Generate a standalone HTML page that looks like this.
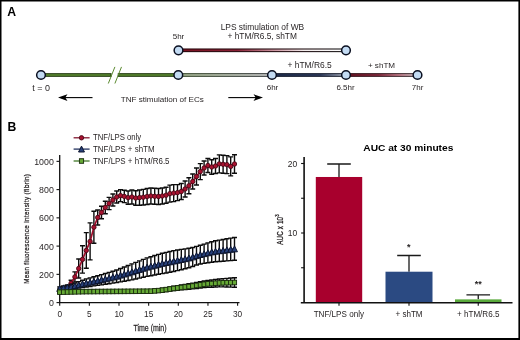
<!DOCTYPE html>
<html lang="en"><head><meta charset="utf-8"><title>Figure</title>
<style>
html,body{margin:0;padding:0;background:#fff;}
body{width:520px;height:340px;overflow:hidden;position:relative;font-family:"Liberation Sans", sans-serif;}
svg{position:absolute;left:0;top:0;display:block;}
svg text{font-family:"Liberation Sans", sans-serif;}
</style></head><body>
<svg width="520" height="340" viewBox="0 0 520 340">
<defs>
<linearGradient id="gRed" x1="0" y1="0" x2="1" y2="0"><stop offset="0" stop-color="#78101f"/><stop offset="0.35" stop-color="#8a2236"/><stop offset="0.58" stop-color="#cf9aa5"/><stop offset="0.75" stop-color="#f3ecec"/><stop offset="1" stop-color="#ffffff"/></linearGradient>
<linearGradient id="sRed" x1="0" y1="0" x2="1" y2="0"><stop offset="0" stop-color="#2a060c"/><stop offset="0.6" stop-color="#2a1216"/><stop offset="1" stop-color="#1e1c1e"/></linearGradient>
<linearGradient id="gGreenGrey" x1="0" y1="0" x2="1" y2="0"><stop offset="0" stop-color="#a9b998"/><stop offset="0.4" stop-color="#bfc9b4"/><stop offset="1" stop-color="#dcdcdc"/></linearGradient>
<linearGradient id="sGreenGrey" x1="0" y1="0" x2="1" y2="0"><stop offset="0" stop-color="#36472a"/><stop offset="1" stop-color="#33363a"/></linearGradient>
<linearGradient id="gNavy" x1="0" y1="0" x2="1" y2="0"><stop offset="0" stop-color="#1f2e50"/><stop offset="0.65" stop-color="#2f3d60"/><stop offset="0.88" stop-color="#8e97ab"/><stop offset="1" stop-color="#d4d7dd"/></linearGradient>
<linearGradient id="sNavy" x1="0" y1="0" x2="1" y2="0"><stop offset="0" stop-color="#0e1528"/><stop offset="1" stop-color="#1c2130"/></linearGradient>
<linearGradient id="gRed2" x1="0" y1="0" x2="1" y2="0"><stop offset="0" stop-color="#6e1022"/><stop offset="0.45" stop-color="#8e2a40"/><stop offset="0.75" stop-color="#d98a9a"/><stop offset="0.9" stop-color="#dcbcc3"/><stop offset="1" stop-color="#dad4d6"/></linearGradient>
<linearGradient id="sRed2" x1="0" y1="0" x2="1" y2="0"><stop offset="0" stop-color="#2e0a12"/><stop offset="1" stop-color="#3a2a2e"/></linearGradient>
</defs>
<text x="7.3" y="16.2" font-size="12.2" font-weight="bold" fill="#000">A</text>
<text x="7.5" y="130.6" font-size="12.2" font-weight="bold" fill="#000">B</text>
<rect x="41" y="73.7" width="70.0" height="2.6" fill="#5d8c30" stroke="#263c14" stroke-width="1.1"/>
<rect x="118.3" y="73.7" width="60.2" height="2.6" fill="#5d8c30" stroke="#263c14" stroke-width="1.1"/>
<path d="M108.3 83.5 L114.9 66.9 M114.9 83.5 L121.5 66.9" stroke="#5b8a30" stroke-width="1" fill="none"/>
<rect x="178.5" y="73.7" width="93.5" height="2.6" fill="url(#gGreenGrey)" stroke="url(#sGreenGrey)" stroke-width="1.1"/>
<rect x="272" y="73.7" width="74" height="2.6" fill="url(#gNavy)" stroke="url(#sNavy)" stroke-width="1.1"/>
<rect x="346" y="73.7" width="71.5" height="2.6" fill="url(#gRed2)" stroke="url(#sRed2)" stroke-width="1.1"/>
<rect x="178.5" y="49.0" width="167.5" height="2.6" fill="url(#gRed)" stroke="url(#sRed)" stroke-width="1.1"/>
<circle cx="41" cy="75.0" r="4.35" fill="#c3dbf3" stroke="#0a0f20" stroke-width="1.5"/>
<circle cx="178.3" cy="75.0" r="4.35" fill="#c3dbf3" stroke="#0a0f20" stroke-width="1.5"/>
<circle cx="272" cy="75.0" r="4.35" fill="#c3dbf3" stroke="#0a0f20" stroke-width="1.5"/>
<circle cx="346" cy="75.0" r="4.35" fill="#c3dbf3" stroke="#0a0f20" stroke-width="1.5"/>
<circle cx="417.5" cy="75.0" r="4.35" fill="#c3dbf3" stroke="#0a0f20" stroke-width="1.5"/>
<circle cx="178.5" cy="50.3" r="4.35" fill="#c3dbf3" stroke="#0a0f20" stroke-width="1.5"/>
<circle cx="346" cy="50.3" r="4.35" fill="#c3dbf3" stroke="#0a0f20" stroke-width="1.5"/>
<text transform="translate(262.4,30.2) scale(1.025,1)" font-size="8.2" text-anchor="middle" font-weight="normal" fill="#231f20" >LPS stimulation of WB</text>
<text transform="translate(262.2,39.3) scale(1.02,1)" font-size="8.2" text-anchor="middle" font-weight="normal" fill="#231f20" >+ hTM/R6.5, shTM</text>
<text x="178.5" y="39.2" font-size="8" text-anchor="middle" font-weight="normal" fill="#231f20" >5hr</text>
<text transform="translate(41.2,90.5) scale(1.08,1)" font-size="8.3" text-anchor="middle" font-weight="normal" fill="#231f20" >t = 0</text>
<text x="272.5" y="90.1" font-size="8" text-anchor="middle" font-weight="normal" fill="#231f20" >6hr</text>
<text x="345.5" y="90.1" font-size="8" text-anchor="middle" font-weight="normal" fill="#231f20" >6.5hr</text>
<text x="417.6" y="90.1" font-size="8" text-anchor="middle" font-weight="normal" fill="#231f20" >7hr</text>
<text transform="translate(309.6,68.0) scale(1.03,1)" font-size="8.2" text-anchor="middle" font-weight="normal" fill="#231f20" >+ hTM/R6.5</text>
<text x="381.5" y="68.0" font-size="8.1" text-anchor="middle" font-weight="normal" fill="#231f20" >+ shTM</text>
<text x="162.3" y="102" font-size="8.1" text-anchor="middle" font-weight="normal" fill="#231f20" >TNF stimulation of ECs</text>
<path d="M61 97.6 H92.5" stroke="#000" stroke-width="1.1"/><path d="M58 97.6 L67.5 94.2 L65.3 97.6 L67.5 101 Z" fill="#000"/>
<path d="M228.3 97.6 H260" stroke="#000" stroke-width="1.1"/><path d="M263 97.6 L253.5 94.2 L255.7 97.6 L253.5 101 Z" fill="#000"/>
<path d="M59.7 155 V302.6 M59.1 302.6 H239.5" stroke="#111" stroke-width="1.3" fill="none"/>
<path d="M56.5 302.60 H59.7" stroke="#111" stroke-width="1.1"/>
<text transform="translate(53.8,306.0) scale(1,1.1)" font-size="8.8" text-anchor="end" font-weight="normal" fill="#231f20" >0</text>
<path d="M56.5 274.35 H59.7" stroke="#111" stroke-width="1.1"/>
<text transform="translate(53.8,277.75) scale(1,1.1)" font-size="8.8" text-anchor="end" font-weight="normal" fill="#231f20" >200</text>
<path d="M56.5 246.10 H59.7" stroke="#111" stroke-width="1.1"/>
<text transform="translate(53.8,249.5) scale(1,1.1)" font-size="8.8" text-anchor="end" font-weight="normal" fill="#231f20" >400</text>
<path d="M56.5 217.85 H59.7" stroke="#111" stroke-width="1.1"/>
<text transform="translate(53.8,221.25) scale(1,1.1)" font-size="8.8" text-anchor="end" font-weight="normal" fill="#231f20" >600</text>
<path d="M56.5 189.60 H59.7" stroke="#111" stroke-width="1.1"/>
<text transform="translate(53.8,193.0) scale(1,1.1)" font-size="8.8" text-anchor="end" font-weight="normal" fill="#231f20" >800</text>
<path d="M56.5 161.35 H59.7" stroke="#111" stroke-width="1.1"/>
<text transform="translate(53.8,164.75) scale(1,1.1)" font-size="8.8" text-anchor="end" font-weight="normal" fill="#231f20" >1000</text>
<path d="M59.70 302.6 V305.8" stroke="#111" stroke-width="1.1"/>
<text transform="translate(59.7,316.7) scale(1,1.14)" font-size="8.3" text-anchor="middle" font-weight="normal" fill="#231f20" >0</text>
<path d="M89.35 302.6 V305.8" stroke="#111" stroke-width="1.1"/>
<text transform="translate(89.35,316.7) scale(1,1.14)" font-size="8.3" text-anchor="middle" font-weight="normal" fill="#231f20" >5</text>
<path d="M119.00 302.6 V305.8" stroke="#111" stroke-width="1.1"/>
<text transform="translate(119.0,316.7) scale(1,1.14)" font-size="8.3" text-anchor="middle" font-weight="normal" fill="#231f20" >10</text>
<path d="M148.65 302.6 V305.8" stroke="#111" stroke-width="1.1"/>
<text transform="translate(148.65,316.7) scale(1,1.14)" font-size="8.3" text-anchor="middle" font-weight="normal" fill="#231f20" >15</text>
<path d="M178.30 302.6 V305.8" stroke="#111" stroke-width="1.1"/>
<text transform="translate(178.3,316.7) scale(1,1.14)" font-size="8.3" text-anchor="middle" font-weight="normal" fill="#231f20" >20</text>
<path d="M207.95 302.6 V305.8" stroke="#111" stroke-width="1.1"/>
<text transform="translate(207.95,316.7) scale(1,1.14)" font-size="8.3" text-anchor="middle" font-weight="normal" fill="#231f20" >25</text>
<path d="M237.60 302.6 V305.8" stroke="#111" stroke-width="1.1"/>
<text transform="translate(237.6,316.7) scale(1,1.14)" font-size="8.3" text-anchor="middle" font-weight="normal" fill="#231f20" >30</text>
<text transform="translate(150,330.8) scale(0.73,1)" font-size="9.6" text-anchor="middle" fill="#231f20" stroke="#231f20" stroke-width="0.25">Time (min)</text>
<text transform="translate(28.7,228.8) rotate(-90) scale(0.78,1)" font-size="8.0" letter-spacing="0.48" text-anchor="middle" fill="#231f20" stroke="#231f20" stroke-width="0.25">Mean fluorescence intensity (fibrin)</text>
<path d="M59.70 289.00V292.00M57.20 289.00h5M57.20 292.00h5M63.50 287.80V291.40M61.00 287.80h5M61.00 291.40h5M67.30 285.10V289.50M64.80 285.10h5M64.80 289.50h5M71.10 280.20V286.20M68.60 280.20h5M68.60 286.20h5M74.90 271.90V281.90M72.40 271.90h5M72.40 281.90h5M78.70 259.00V278.00M76.20 259.00h5M76.20 278.00h5M82.50 245.70V273.10M80.00 245.70h5M80.00 273.10h5M86.30 232.60V268.20M83.80 232.60h5M83.80 268.20h5M90.10 222.90V259.90M87.60 222.90h5M87.60 259.90h5M93.90 211.20V243.20M91.40 211.20h5M91.40 243.20h5M97.70 210.00V225.00M95.20 210.00h5M95.20 225.00h5M101.50 206.20V218.80M99.00 206.20h5M99.00 218.80h5M105.30 201.30V213.70M102.80 201.30h5M102.80 213.70h5M109.10 197.40V209.60M106.60 197.40h5M106.60 209.60h5M112.90 194.00V206.00M110.40 194.00h5M110.40 206.00h5M116.70 191.00V203.00M114.20 191.00h5M114.20 203.00h5M120.50 189.60V201.60M118.00 189.60h5M118.00 201.60h5M124.30 190.20V202.60M121.80 190.20h5M121.80 202.60h5M128.10 191.00V204.20M125.60 191.00h5M125.60 204.20h5M131.90 190.00V204.00M129.40 190.00h5M129.40 204.00h5M135.70 190.70V205.30M133.20 190.70h5M133.20 205.30h5M139.50 190.00V205.20M137.00 190.00h5M137.00 205.20h5M143.30 189.40V205.00M140.80 189.40h5M140.80 205.00h5M147.10 188.50V204.50M144.60 188.50h5M144.60 204.50h5M150.90 188.00V204.00M148.40 188.00h5M148.40 204.00h5M154.70 188.30V204.30M152.20 188.30h5M152.20 204.30h5M158.50 188.50V204.50M156.00 188.50h5M156.00 204.50h5M162.30 188.00V204.00M159.80 188.00h5M159.80 204.00h5M166.10 187.20V203.20M163.60 187.20h5M163.60 203.20h5M169.90 185.10V202.10M167.40 185.10h5M167.40 202.10h5M173.70 184.60V201.60M171.20 184.60h5M171.20 201.60h5M177.50 184.60V200.60M175.00 184.60h5M175.00 200.60h5M181.30 183.50V199.50M178.80 183.50h5M178.80 199.50h5M185.10 181.00V197.00M182.60 181.00h5M182.60 197.00h5M188.90 177.80V193.80M186.40 177.80h5M186.40 193.80h5M192.70 174.00V189.00M190.20 174.00h5M190.20 189.00h5M196.50 168.00V185.00M194.00 168.00h5M194.00 185.00h5M200.30 163.60V179.60M197.80 163.60h5M197.80 179.60h5M204.10 161.00V175.00M201.60 161.00h5M201.60 175.00h5M207.90 158.50V172.50M205.40 158.50h5M205.40 172.50h5M211.70 159.70V174.30M209.20 159.70h5M209.20 174.30h5M215.50 158.50V173.50M213.00 158.50h5M213.00 173.50h5M219.30 154.90V172.90M216.80 154.90h5M216.80 172.90h5M223.10 155.30V173.30M220.60 155.30h5M220.60 173.30h5M226.90 155.60V173.60M224.40 155.60h5M224.40 173.60h5M230.70 156.90V175.90M228.20 156.90h5M228.20 175.90h5M234.50 154.70V173.30M232.00 154.70h5M232.00 173.30h5" stroke="#0c0c0c" stroke-width="1.4" fill="none"/>
<polyline points="59.70,290.50 63.50,289.60 67.30,287.30 71.10,283.20 74.90,276.90 78.70,268.50 82.50,259.40 86.30,250.40 90.10,241.40 93.90,227.20 97.70,217.50 101.50,212.50 105.30,207.50 109.10,203.50 112.90,200.00 116.70,197.00 120.50,195.60 124.30,196.40 128.10,197.60 131.90,197.00 135.70,198.00 139.50,197.60 143.30,197.20 147.10,196.50 150.90,196.00 154.70,196.30 158.50,196.50 162.30,196.00 166.10,195.20 169.90,193.60 173.70,193.10 177.50,192.60 181.30,191.50 185.10,189.00 188.90,185.80 192.70,181.50 196.50,176.50 200.30,171.60 204.10,168.00 207.90,165.50 211.70,167.00 215.50,166.00 219.30,163.90 223.10,164.30 226.90,164.60 230.70,166.40 234.50,164.00" fill="none" stroke="#9c0f2b" stroke-width="1.7"/>
<circle cx="59.70" cy="290.50" r="2.2" fill="#a8112f" stroke="#4a0816" stroke-width="0.9"/>
<circle cx="63.50" cy="289.60" r="2.2" fill="#a8112f" stroke="#4a0816" stroke-width="0.9"/>
<circle cx="67.30" cy="287.30" r="2.2" fill="#a8112f" stroke="#4a0816" stroke-width="0.9"/>
<circle cx="71.10" cy="283.20" r="2.2" fill="#a8112f" stroke="#4a0816" stroke-width="0.9"/>
<circle cx="74.90" cy="276.90" r="2.2" fill="#a8112f" stroke="#4a0816" stroke-width="0.9"/>
<circle cx="78.70" cy="268.50" r="2.2" fill="#a8112f" stroke="#4a0816" stroke-width="0.9"/>
<circle cx="82.50" cy="259.40" r="2.2" fill="#a8112f" stroke="#4a0816" stroke-width="0.9"/>
<circle cx="86.30" cy="250.40" r="2.2" fill="#a8112f" stroke="#4a0816" stroke-width="0.9"/>
<circle cx="90.10" cy="241.40" r="2.2" fill="#a8112f" stroke="#4a0816" stroke-width="0.9"/>
<circle cx="93.90" cy="227.20" r="2.2" fill="#a8112f" stroke="#4a0816" stroke-width="0.9"/>
<circle cx="97.70" cy="217.50" r="2.2" fill="#a8112f" stroke="#4a0816" stroke-width="0.9"/>
<circle cx="101.50" cy="212.50" r="2.2" fill="#a8112f" stroke="#4a0816" stroke-width="0.9"/>
<circle cx="105.30" cy="207.50" r="2.2" fill="#a8112f" stroke="#4a0816" stroke-width="0.9"/>
<circle cx="109.10" cy="203.50" r="2.2" fill="#a8112f" stroke="#4a0816" stroke-width="0.9"/>
<circle cx="112.90" cy="200.00" r="2.2" fill="#a8112f" stroke="#4a0816" stroke-width="0.9"/>
<circle cx="116.70" cy="197.00" r="2.2" fill="#a8112f" stroke="#4a0816" stroke-width="0.9"/>
<circle cx="120.50" cy="195.60" r="2.2" fill="#a8112f" stroke="#4a0816" stroke-width="0.9"/>
<circle cx="124.30" cy="196.40" r="2.2" fill="#a8112f" stroke="#4a0816" stroke-width="0.9"/>
<circle cx="128.10" cy="197.60" r="2.2" fill="#a8112f" stroke="#4a0816" stroke-width="0.9"/>
<circle cx="131.90" cy="197.00" r="2.2" fill="#a8112f" stroke="#4a0816" stroke-width="0.9"/>
<circle cx="135.70" cy="198.00" r="2.2" fill="#a8112f" stroke="#4a0816" stroke-width="0.9"/>
<circle cx="139.50" cy="197.60" r="2.2" fill="#a8112f" stroke="#4a0816" stroke-width="0.9"/>
<circle cx="143.30" cy="197.20" r="2.2" fill="#a8112f" stroke="#4a0816" stroke-width="0.9"/>
<circle cx="147.10" cy="196.50" r="2.2" fill="#a8112f" stroke="#4a0816" stroke-width="0.9"/>
<circle cx="150.90" cy="196.00" r="2.2" fill="#a8112f" stroke="#4a0816" stroke-width="0.9"/>
<circle cx="154.70" cy="196.30" r="2.2" fill="#a8112f" stroke="#4a0816" stroke-width="0.9"/>
<circle cx="158.50" cy="196.50" r="2.2" fill="#a8112f" stroke="#4a0816" stroke-width="0.9"/>
<circle cx="162.30" cy="196.00" r="2.2" fill="#a8112f" stroke="#4a0816" stroke-width="0.9"/>
<circle cx="166.10" cy="195.20" r="2.2" fill="#a8112f" stroke="#4a0816" stroke-width="0.9"/>
<circle cx="169.90" cy="193.60" r="2.2" fill="#a8112f" stroke="#4a0816" stroke-width="0.9"/>
<circle cx="173.70" cy="193.10" r="2.2" fill="#a8112f" stroke="#4a0816" stroke-width="0.9"/>
<circle cx="177.50" cy="192.60" r="2.2" fill="#a8112f" stroke="#4a0816" stroke-width="0.9"/>
<circle cx="181.30" cy="191.50" r="2.2" fill="#a8112f" stroke="#4a0816" stroke-width="0.9"/>
<circle cx="185.10" cy="189.00" r="2.2" fill="#a8112f" stroke="#4a0816" stroke-width="0.9"/>
<circle cx="188.90" cy="185.80" r="2.2" fill="#a8112f" stroke="#4a0816" stroke-width="0.9"/>
<circle cx="192.70" cy="181.50" r="2.2" fill="#a8112f" stroke="#4a0816" stroke-width="0.9"/>
<circle cx="196.50" cy="176.50" r="2.2" fill="#a8112f" stroke="#4a0816" stroke-width="0.9"/>
<circle cx="200.30" cy="171.60" r="2.2" fill="#a8112f" stroke="#4a0816" stroke-width="0.9"/>
<circle cx="204.10" cy="168.00" r="2.2" fill="#a8112f" stroke="#4a0816" stroke-width="0.9"/>
<circle cx="207.90" cy="165.50" r="2.2" fill="#a8112f" stroke="#4a0816" stroke-width="0.9"/>
<circle cx="211.70" cy="167.00" r="2.2" fill="#a8112f" stroke="#4a0816" stroke-width="0.9"/>
<circle cx="215.50" cy="166.00" r="2.2" fill="#a8112f" stroke="#4a0816" stroke-width="0.9"/>
<circle cx="219.30" cy="163.90" r="2.2" fill="#a8112f" stroke="#4a0816" stroke-width="0.9"/>
<circle cx="223.10" cy="164.30" r="2.2" fill="#a8112f" stroke="#4a0816" stroke-width="0.9"/>
<circle cx="226.90" cy="164.60" r="2.2" fill="#a8112f" stroke="#4a0816" stroke-width="0.9"/>
<circle cx="230.70" cy="166.40" r="2.2" fill="#a8112f" stroke="#4a0816" stroke-width="0.9"/>
<circle cx="234.50" cy="164.00" r="2.2" fill="#a8112f" stroke="#4a0816" stroke-width="0.9"/>
<path d="M59.70 287.00V290.00M57.20 287.00h5M57.20 290.00h5M63.50 286.07V289.69M61.00 286.07h5M61.00 289.69h5M67.30 285.15V289.38M64.80 285.15h5M64.80 289.38h5M71.10 284.22V289.07M68.60 284.22h5M68.60 289.07h5M74.90 282.96V288.59M72.40 282.96h5M72.40 288.59h5M78.70 281.61V288.04M76.20 281.61h5M76.20 288.04h5M82.50 280.25V287.50M80.00 280.25h5M80.00 287.50h5M86.30 278.92V286.96M83.80 278.92h5M83.80 286.96h5M90.10 277.86V286.43M87.60 277.86h5M87.60 286.43h5M93.90 276.81V285.90M91.40 276.81h5M91.40 285.90h5M97.70 275.75V285.38M95.20 275.75h5M95.20 285.38h5M101.50 274.66V284.84M99.00 274.66h5M99.00 284.84h5M105.30 273.50V284.27M102.80 273.50h5M102.80 284.27h5M109.10 272.34V283.70M106.60 272.34h5M106.60 283.70h5M112.90 271.19V283.13M110.40 271.19h5M110.40 283.13h5M116.70 269.94V282.54M114.20 269.94h5M114.20 282.54h5M120.50 268.44V281.88M118.00 268.44h5M118.00 281.88h5M124.30 266.93V281.21M121.80 266.93h5M121.80 281.21h5M128.10 265.43V280.54M125.60 265.43h5M125.60 280.54h5M131.90 263.92V279.84M129.40 263.92h5M129.40 279.84h5M135.70 262.41V278.97M133.20 262.41h5M133.20 278.97h5M139.50 260.89V278.10M137.00 260.89h5M137.00 278.10h5M143.30 259.38V277.23M140.80 259.38h5M140.80 277.23h5M147.10 257.91V276.39M144.60 257.91h5M144.60 276.39h5M150.90 256.73V275.70M148.40 256.73h5M148.40 275.70h5M154.70 255.54V275.01M152.20 255.54h5M152.20 275.01h5M158.50 254.36V274.32M156.00 254.36h5M156.00 274.32h5M162.30 253.21V273.63M159.80 253.21h5M159.80 273.63h5M166.10 252.35V272.94M163.60 252.35h5M163.60 272.94h5M169.90 251.48V272.25M167.40 251.48h5M167.40 272.25h5M173.70 250.62V271.56M171.20 250.62h5M171.20 271.56h5M177.50 249.96V270.67M175.00 249.96h5M175.00 270.67h5M181.30 249.40V269.68M178.80 249.40h5M178.80 269.68h5M185.10 248.84V268.69M182.60 248.84h5M182.60 268.69h5M188.90 248.28V267.70M186.40 248.28h5M186.40 267.70h5M192.70 247.46V266.46M190.20 247.46h5M190.20 266.46h5M196.50 246.37V264.98M194.00 246.37h5M194.00 264.98h5M200.30 245.25V263.93M197.80 245.25h5M197.80 263.93h5M204.10 244.08V263.36M201.60 244.08h5M201.60 263.36h5M207.90 242.91V262.79M205.40 242.91h5M205.40 262.79h5M211.70 241.75V262.22M209.20 241.75h5M209.20 262.22h5M215.50 240.80V261.77M213.00 240.80h5M213.00 261.77h5M219.30 240.14V261.47M216.80 240.14h5M216.80 261.47h5M223.10 239.48V261.18M220.60 239.48h5M220.60 261.18h5M226.90 238.82V260.89M224.40 238.82h5M224.40 260.89h5M230.70 238.16V260.59M228.20 238.16h5M228.20 260.59h5M234.50 237.50V260.30M232.00 237.50h5M232.00 260.30h5" stroke="#0c0c0c" stroke-width="1.4" fill="none"/>
<polyline points="59.70,288.50 63.50,287.88 67.30,287.26 71.10,286.65 74.90,285.77 78.70,284.82 82.50,283.88 86.30,282.94 90.10,282.15 93.90,281.35 97.70,280.56 101.50,279.75 105.30,278.89 109.10,278.02 112.90,277.16 116.70,276.24 120.50,275.16 124.30,274.07 128.10,272.99 131.90,271.88 135.70,270.69 139.50,269.50 143.30,268.30 147.10,267.15 150.90,266.21 154.70,265.28 158.50,264.34 162.30,263.42 166.10,262.64 169.90,261.87 173.70,261.09 177.50,260.32 181.30,259.54 185.10,258.76 188.90,257.99 192.70,256.96 196.50,255.68 200.30,254.59 204.10,253.72 207.90,252.85 211.70,251.98 215.50,251.29 219.30,250.81 223.10,250.33 226.90,249.85 230.70,249.38 234.50,248.90" fill="none" stroke="#223c74" stroke-width="1.7"/>
<path stroke-linejoin="round" d="M59.70 285.50 L62.65 291.40 H56.75 Z" fill="#27407a" stroke="#0c142e" stroke-width="1.0"/>
<path stroke-linejoin="round" d="M63.50 284.88 L66.45 290.78 H60.55 Z" fill="#27407a" stroke="#0c142e" stroke-width="1.0"/>
<path stroke-linejoin="round" d="M67.30 284.26 L70.25 290.16 H64.35 Z" fill="#27407a" stroke="#0c142e" stroke-width="1.0"/>
<path stroke-linejoin="round" d="M71.10 283.65 L74.05 289.55 H68.15 Z" fill="#27407a" stroke="#0c142e" stroke-width="1.0"/>
<path stroke-linejoin="round" d="M74.90 282.77 L77.85 288.67 H71.95 Z" fill="#27407a" stroke="#0c142e" stroke-width="1.0"/>
<path stroke-linejoin="round" d="M78.70 281.82 L81.65 287.72 H75.75 Z" fill="#27407a" stroke="#0c142e" stroke-width="1.0"/>
<path stroke-linejoin="round" d="M82.50 280.88 L85.45 286.77 H79.55 Z" fill="#27407a" stroke="#0c142e" stroke-width="1.0"/>
<path stroke-linejoin="round" d="M86.30 279.94 L89.25 285.84 H83.35 Z" fill="#27407a" stroke="#0c142e" stroke-width="1.0"/>
<path stroke-linejoin="round" d="M90.10 279.15 L93.05 285.05 H87.15 Z" fill="#27407a" stroke="#0c142e" stroke-width="1.0"/>
<path stroke-linejoin="round" d="M93.90 278.35 L96.85 284.25 H90.95 Z" fill="#27407a" stroke="#0c142e" stroke-width="1.0"/>
<path stroke-linejoin="round" d="M97.70 277.56 L100.65 283.46 H94.75 Z" fill="#27407a" stroke="#0c142e" stroke-width="1.0"/>
<path stroke-linejoin="round" d="M101.50 276.75 L104.45 282.65 H98.55 Z" fill="#27407a" stroke="#0c142e" stroke-width="1.0"/>
<path stroke-linejoin="round" d="M105.30 275.89 L108.25 281.79 H102.35 Z" fill="#27407a" stroke="#0c142e" stroke-width="1.0"/>
<path stroke-linejoin="round" d="M109.10 275.02 L112.05 280.92 H106.15 Z" fill="#27407a" stroke="#0c142e" stroke-width="1.0"/>
<path stroke-linejoin="round" d="M112.90 274.16 L115.85 280.06 H109.95 Z" fill="#27407a" stroke="#0c142e" stroke-width="1.0"/>
<path stroke-linejoin="round" d="M116.70 273.24 L119.65 279.14 H113.75 Z" fill="#27407a" stroke="#0c142e" stroke-width="1.0"/>
<path stroke-linejoin="round" d="M120.50 272.16 L123.45 278.06 H117.55 Z" fill="#27407a" stroke="#0c142e" stroke-width="1.0"/>
<path stroke-linejoin="round" d="M124.30 271.07 L127.25 276.97 H121.35 Z" fill="#27407a" stroke="#0c142e" stroke-width="1.0"/>
<path stroke-linejoin="round" d="M128.10 269.99 L131.05 275.89 H125.15 Z" fill="#27407a" stroke="#0c142e" stroke-width="1.0"/>
<path stroke-linejoin="round" d="M131.90 268.88 L134.85 274.78 H128.95 Z" fill="#27407a" stroke="#0c142e" stroke-width="1.0"/>
<path stroke-linejoin="round" d="M135.70 267.69 L138.65 273.59 H132.75 Z" fill="#27407a" stroke="#0c142e" stroke-width="1.0"/>
<path stroke-linejoin="round" d="M139.50 266.50 L142.45 272.40 H136.55 Z" fill="#27407a" stroke="#0c142e" stroke-width="1.0"/>
<path stroke-linejoin="round" d="M143.30 265.30 L146.25 271.20 H140.35 Z" fill="#27407a" stroke="#0c142e" stroke-width="1.0"/>
<path stroke-linejoin="round" d="M147.10 264.15 L150.05 270.05 H144.15 Z" fill="#27407a" stroke="#0c142e" stroke-width="1.0"/>
<path stroke-linejoin="round" d="M150.90 263.21 L153.85 269.11 H147.95 Z" fill="#27407a" stroke="#0c142e" stroke-width="1.0"/>
<path stroke-linejoin="round" d="M154.70 262.28 L157.65 268.18 H151.75 Z" fill="#27407a" stroke="#0c142e" stroke-width="1.0"/>
<path stroke-linejoin="round" d="M158.50 261.34 L161.45 267.24 H155.55 Z" fill="#27407a" stroke="#0c142e" stroke-width="1.0"/>
<path stroke-linejoin="round" d="M162.30 260.42 L165.25 266.32 H159.35 Z" fill="#27407a" stroke="#0c142e" stroke-width="1.0"/>
<path stroke-linejoin="round" d="M166.10 259.64 L169.05 265.54 H163.15 Z" fill="#27407a" stroke="#0c142e" stroke-width="1.0"/>
<path stroke-linejoin="round" d="M169.90 258.87 L172.85 264.77 H166.95 Z" fill="#27407a" stroke="#0c142e" stroke-width="1.0"/>
<path stroke-linejoin="round" d="M173.70 258.09 L176.65 263.99 H170.75 Z" fill="#27407a" stroke="#0c142e" stroke-width="1.0"/>
<path stroke-linejoin="round" d="M177.50 257.32 L180.45 263.22 H174.55 Z" fill="#27407a" stroke="#0c142e" stroke-width="1.0"/>
<path stroke-linejoin="round" d="M181.30 256.54 L184.25 262.44 H178.35 Z" fill="#27407a" stroke="#0c142e" stroke-width="1.0"/>
<path stroke-linejoin="round" d="M185.10 255.76 L188.05 261.66 H182.15 Z" fill="#27407a" stroke="#0c142e" stroke-width="1.0"/>
<path stroke-linejoin="round" d="M188.90 254.99 L191.85 260.89 H185.95 Z" fill="#27407a" stroke="#0c142e" stroke-width="1.0"/>
<path stroke-linejoin="round" d="M192.70 253.96 L195.65 259.86 H189.75 Z" fill="#27407a" stroke="#0c142e" stroke-width="1.0"/>
<path stroke-linejoin="round" d="M196.50 252.68 L199.45 258.58 H193.55 Z" fill="#27407a" stroke="#0c142e" stroke-width="1.0"/>
<path stroke-linejoin="round" d="M200.30 251.59 L203.25 257.49 H197.35 Z" fill="#27407a" stroke="#0c142e" stroke-width="1.0"/>
<path stroke-linejoin="round" d="M204.10 250.72 L207.05 256.62 H201.15 Z" fill="#27407a" stroke="#0c142e" stroke-width="1.0"/>
<path stroke-linejoin="round" d="M207.90 249.85 L210.85 255.75 H204.95 Z" fill="#27407a" stroke="#0c142e" stroke-width="1.0"/>
<path stroke-linejoin="round" d="M211.70 248.98 L214.65 254.88 H208.75 Z" fill="#27407a" stroke="#0c142e" stroke-width="1.0"/>
<path stroke-linejoin="round" d="M215.50 248.29 L218.45 254.19 H212.55 Z" fill="#27407a" stroke="#0c142e" stroke-width="1.0"/>
<path stroke-linejoin="round" d="M219.30 247.81 L222.25 253.71 H216.35 Z" fill="#27407a" stroke="#0c142e" stroke-width="1.0"/>
<path stroke-linejoin="round" d="M223.10 247.33 L226.05 253.23 H220.15 Z" fill="#27407a" stroke="#0c142e" stroke-width="1.0"/>
<path stroke-linejoin="round" d="M226.90 246.85 L229.85 252.75 H223.95 Z" fill="#27407a" stroke="#0c142e" stroke-width="1.0"/>
<path stroke-linejoin="round" d="M230.70 246.38 L233.65 252.28 H227.75 Z" fill="#27407a" stroke="#0c142e" stroke-width="1.0"/>
<path stroke-linejoin="round" d="M234.50 245.90 L237.45 251.80 H231.55 Z" fill="#27407a" stroke="#0c142e" stroke-width="1.0"/>
<path d="M59.70 291.00V293.40M57.20 291.00h5M57.20 293.40h5M63.50 290.90V293.32M61.00 290.90h5M61.00 293.32h5M67.30 290.79V293.25M64.80 290.79h5M64.80 293.25h5M71.10 290.69V293.17M68.60 290.69h5M68.60 293.17h5M74.90 290.59V293.09M72.40 290.59h5M72.40 293.09h5M78.70 290.49V293.01M76.20 290.49h5M76.20 293.01h5M82.50 290.38V292.94M80.00 290.38h5M80.00 292.94h5M86.30 290.30V292.88M83.80 290.30h5M83.80 292.88h5M90.10 290.27V292.87M87.60 290.27h5M87.60 292.87h5M93.90 290.23V292.86M91.40 290.23h5M91.40 292.86h5M97.70 290.20V292.85M95.20 290.20h5M95.20 292.85h5M101.50 290.16V292.84M99.00 290.16h5M99.00 292.84h5M105.30 290.12V292.83M102.80 290.12h5M102.80 292.83h5M109.10 290.09V292.82M106.60 290.09h5M106.60 292.82h5M112.90 290.05V292.81M110.40 290.05h5M110.40 292.81h5M116.70 290.02V292.79M114.20 290.02h5M114.20 292.79h5M120.50 289.98V292.78M118.00 289.98h5M118.00 292.78h5M124.30 289.94V292.77M121.80 289.94h5M121.80 292.77h5M128.10 289.91V292.76M125.60 289.91h5M125.60 292.76h5M131.90 289.87V292.75M129.40 289.87h5M129.40 292.75h5M135.70 289.84V292.74M133.20 289.84h5M133.20 292.74h5M139.50 289.80V292.73M137.00 289.80h5M137.00 292.73h5M143.30 289.76V292.72M140.80 289.76h5M140.80 292.72h5M147.10 289.73V292.71M144.60 289.73h5M144.60 292.71h5M150.90 289.61V292.66M148.40 289.61h5M148.40 292.66h5M154.70 289.24V292.50M152.20 289.24h5M152.20 292.50h5M158.50 288.87V292.34M156.00 288.87h5M156.00 292.34h5M162.30 288.31V292.00M159.80 288.31h5M159.80 292.00h5M166.10 287.64V291.54M163.60 287.64h5M163.60 291.54h5M169.90 286.96V291.08M167.40 286.96h5M167.40 291.08h5M173.70 286.29V290.62M171.20 286.29h5M171.20 290.62h5M177.50 285.64V290.24M175.00 285.64h5M175.00 290.24h5M181.30 285.02V289.92M178.80 285.02h5M178.80 289.92h5M185.10 284.40V289.61M182.60 284.40h5M182.60 289.61h5M188.90 283.78V289.29M186.40 283.78h5M186.40 289.29h5M192.70 283.11V288.91M190.20 283.11h5M190.20 288.91h5M196.50 282.39V288.48M194.00 282.39h5M194.00 288.48h5M200.30 281.68V288.05M197.80 281.68h5M197.80 288.05h5M204.10 280.96V287.62M201.60 280.96h5M201.60 287.62h5M207.90 280.38V287.33M205.40 280.38h5M205.40 287.33h5M211.70 279.94V287.18M209.20 279.94h5M209.20 287.18h5M215.50 279.50V287.03M213.00 279.50h5M213.00 287.03h5M219.30 279.06V286.89M216.80 279.06h5M216.80 286.89h5M223.10 278.66V286.86M220.60 278.66h5M220.60 286.86h5M226.90 278.34V287.01M224.40 278.34h5M224.40 287.01h5M230.70 278.02V287.15M228.20 278.02h5M228.20 287.15h5M234.50 277.70V287.30M232.00 277.70h5M232.00 287.30h5" stroke="#0c0c0c" stroke-width="1.4" fill="none"/>
<polyline points="59.70,292.20 63.50,292.11 67.30,292.02 71.10,291.93 74.90,291.84 78.70,291.75 82.50,291.66 86.30,291.59 90.10,291.57 93.90,291.55 97.70,291.52 101.50,291.50 105.30,291.48 109.10,291.45 112.90,291.43 116.70,291.40 120.50,291.38 124.30,291.36 128.10,291.33 131.90,291.31 135.70,291.29 139.50,291.26 143.30,291.24 147.10,291.22 150.90,291.14 154.70,290.87 158.50,290.61 162.30,290.16 166.10,289.59 169.90,289.02 173.70,288.45 177.50,287.94 181.30,287.47 185.10,287.00 188.90,286.53 192.70,286.01 196.50,285.44 200.30,284.86 204.10,284.29 207.90,283.85 211.70,283.56 215.50,283.26 219.30,282.97 223.10,282.76 226.90,282.68 230.70,282.59 234.50,282.50" fill="none" stroke="#468824" stroke-width="1.7"/>
<rect x="57.60" y="289.90" width="4.2" height="4.6" fill="#66aa36" stroke="#182a0c" stroke-width="0.9"/>
<rect x="61.40" y="289.81" width="4.2" height="4.6" fill="#66aa36" stroke="#182a0c" stroke-width="0.9"/>
<rect x="65.20" y="289.72" width="4.2" height="4.6" fill="#66aa36" stroke="#182a0c" stroke-width="0.9"/>
<rect x="69.00" y="289.63" width="4.2" height="4.6" fill="#66aa36" stroke="#182a0c" stroke-width="0.9"/>
<rect x="72.80" y="289.54" width="4.2" height="4.6" fill="#66aa36" stroke="#182a0c" stroke-width="0.9"/>
<rect x="76.60" y="289.45" width="4.2" height="4.6" fill="#66aa36" stroke="#182a0c" stroke-width="0.9"/>
<rect x="80.40" y="289.36" width="4.2" height="4.6" fill="#66aa36" stroke="#182a0c" stroke-width="0.9"/>
<rect x="84.20" y="289.29" width="4.2" height="4.6" fill="#66aa36" stroke="#182a0c" stroke-width="0.9"/>
<rect x="88.00" y="289.27" width="4.2" height="4.6" fill="#66aa36" stroke="#182a0c" stroke-width="0.9"/>
<rect x="91.80" y="289.25" width="4.2" height="4.6" fill="#66aa36" stroke="#182a0c" stroke-width="0.9"/>
<rect x="95.60" y="289.22" width="4.2" height="4.6" fill="#66aa36" stroke="#182a0c" stroke-width="0.9"/>
<rect x="99.40" y="289.20" width="4.2" height="4.6" fill="#66aa36" stroke="#182a0c" stroke-width="0.9"/>
<rect x="103.20" y="289.18" width="4.2" height="4.6" fill="#66aa36" stroke="#182a0c" stroke-width="0.9"/>
<rect x="107.00" y="289.15" width="4.2" height="4.6" fill="#66aa36" stroke="#182a0c" stroke-width="0.9"/>
<rect x="110.80" y="289.13" width="4.2" height="4.6" fill="#66aa36" stroke="#182a0c" stroke-width="0.9"/>
<rect x="114.60" y="289.10" width="4.2" height="4.6" fill="#66aa36" stroke="#182a0c" stroke-width="0.9"/>
<rect x="118.40" y="289.08" width="4.2" height="4.6" fill="#66aa36" stroke="#182a0c" stroke-width="0.9"/>
<rect x="122.20" y="289.06" width="4.2" height="4.6" fill="#66aa36" stroke="#182a0c" stroke-width="0.9"/>
<rect x="126.00" y="289.03" width="4.2" height="4.6" fill="#66aa36" stroke="#182a0c" stroke-width="0.9"/>
<rect x="129.80" y="289.01" width="4.2" height="4.6" fill="#66aa36" stroke="#182a0c" stroke-width="0.9"/>
<rect x="133.60" y="288.99" width="4.2" height="4.6" fill="#66aa36" stroke="#182a0c" stroke-width="0.9"/>
<rect x="137.40" y="288.96" width="4.2" height="4.6" fill="#66aa36" stroke="#182a0c" stroke-width="0.9"/>
<rect x="141.20" y="288.94" width="4.2" height="4.6" fill="#66aa36" stroke="#182a0c" stroke-width="0.9"/>
<rect x="145.00" y="288.92" width="4.2" height="4.6" fill="#66aa36" stroke="#182a0c" stroke-width="0.9"/>
<rect x="148.80" y="288.84" width="4.2" height="4.6" fill="#66aa36" stroke="#182a0c" stroke-width="0.9"/>
<rect x="152.60" y="288.57" width="4.2" height="4.6" fill="#66aa36" stroke="#182a0c" stroke-width="0.9"/>
<rect x="156.40" y="288.31" width="4.2" height="4.6" fill="#66aa36" stroke="#182a0c" stroke-width="0.9"/>
<rect x="160.20" y="287.86" width="4.2" height="4.6" fill="#66aa36" stroke="#182a0c" stroke-width="0.9"/>
<rect x="164.00" y="287.29" width="4.2" height="4.6" fill="#66aa36" stroke="#182a0c" stroke-width="0.9"/>
<rect x="167.80" y="286.72" width="4.2" height="4.6" fill="#66aa36" stroke="#182a0c" stroke-width="0.9"/>
<rect x="171.60" y="286.15" width="4.2" height="4.6" fill="#66aa36" stroke="#182a0c" stroke-width="0.9"/>
<rect x="175.40" y="285.64" width="4.2" height="4.6" fill="#66aa36" stroke="#182a0c" stroke-width="0.9"/>
<rect x="179.20" y="285.17" width="4.2" height="4.6" fill="#66aa36" stroke="#182a0c" stroke-width="0.9"/>
<rect x="183.00" y="284.70" width="4.2" height="4.6" fill="#66aa36" stroke="#182a0c" stroke-width="0.9"/>
<rect x="186.80" y="284.23" width="4.2" height="4.6" fill="#66aa36" stroke="#182a0c" stroke-width="0.9"/>
<rect x="190.60" y="283.71" width="4.2" height="4.6" fill="#66aa36" stroke="#182a0c" stroke-width="0.9"/>
<rect x="194.40" y="283.14" width="4.2" height="4.6" fill="#66aa36" stroke="#182a0c" stroke-width="0.9"/>
<rect x="198.20" y="282.56" width="4.2" height="4.6" fill="#66aa36" stroke="#182a0c" stroke-width="0.9"/>
<rect x="202.00" y="281.99" width="4.2" height="4.6" fill="#66aa36" stroke="#182a0c" stroke-width="0.9"/>
<rect x="205.80" y="281.55" width="4.2" height="4.6" fill="#66aa36" stroke="#182a0c" stroke-width="0.9"/>
<rect x="209.60" y="281.26" width="4.2" height="4.6" fill="#66aa36" stroke="#182a0c" stroke-width="0.9"/>
<rect x="213.40" y="280.96" width="4.2" height="4.6" fill="#66aa36" stroke="#182a0c" stroke-width="0.9"/>
<rect x="217.20" y="280.67" width="4.2" height="4.6" fill="#66aa36" stroke="#182a0c" stroke-width="0.9"/>
<rect x="221.00" y="280.46" width="4.2" height="4.6" fill="#66aa36" stroke="#182a0c" stroke-width="0.9"/>
<rect x="224.80" y="280.38" width="4.2" height="4.6" fill="#66aa36" stroke="#182a0c" stroke-width="0.9"/>
<rect x="228.60" y="280.29" width="4.2" height="4.6" fill="#66aa36" stroke="#182a0c" stroke-width="0.9"/>
<rect x="232.40" y="280.20" width="4.2" height="4.6" fill="#66aa36" stroke="#182a0c" stroke-width="0.9"/>
<path d="M73.6 137.8 H89.6" stroke="#7d1029" stroke-width="1.25"/>
<circle cx="81.50" cy="137.80" r="2.2" fill="#a8112f" stroke="#4a0816" stroke-width="0.9"/>
<text transform="translate(93,140.3) scale(1,1.2)" font-size="7.75" text-anchor="start" font-weight="normal" fill="#231f20" >TNF/LPS only</text>
<path d="M73.6 149.1 H89.6" stroke="#1a2a58" stroke-width="1.25"/>
<path stroke-linejoin="round" d="M81.50 146.10 L84.45 152.00 H78.55 Z" fill="#27407a" stroke="#0c142e" stroke-width="1.0"/>
<text transform="translate(93,151.6) scale(1,1.2)" font-size="7.95" text-anchor="start" font-weight="normal" fill="#231f20" >TNF/LPS + shTM</text>
<path d="M73.6 161 H89.6" stroke="#3a7420" stroke-width="1.25"/>
<rect x="79.40" y="158.70" width="4.2" height="4.6" fill="#66aa36" stroke="#182a0c" stroke-width="0.9"/>
<text transform="translate(93,163.5) scale(1,1.2)" font-size="7.95" text-anchor="start" font-weight="normal" fill="#231f20" >TNF/LPS + hTM/R6.5</text>
<path d="M304.1 157 V302.7 M300.8 302.7 H512.5" stroke="#111" stroke-width="1.6" fill="none"/>
<path d="M301.1 267.75 H304.3" stroke="#111" stroke-width="1.1"/>
<path d="M301.1 233.00 H304.3" stroke="#111" stroke-width="1.1"/>
<path d="M301.1 198.25 H304.3" stroke="#111" stroke-width="1.1"/>
<path d="M301.1 163.50 H304.3" stroke="#111" stroke-width="1.1"/>
<text transform="translate(297.3,236.4) scale(1,1.14)" font-size="8.5" text-anchor="end" font-weight="normal" fill="#231f20" >10</text>
<text transform="translate(297.3,166.7) scale(1,1.14)" font-size="8.5" text-anchor="end" font-weight="normal" fill="#231f20" >20</text>
<path d="M339.0 176.983 V163.983 M327.2 163.983 h23.6" stroke="#1a1a1a" stroke-width="1.3" fill="none"/>
<rect x="315.8" y="176.98" width="46.39999999999998" height="125.02" fill="#a8002d"/>
<path d="M339.0 302.5 v3.2" stroke="#111" stroke-width="1.1"/>
<path d="M409.0 271.7115 V255.5115 M397.2 255.5115 h23.6" stroke="#1a1a1a" stroke-width="1.3" fill="none"/>
<rect x="385.5" y="271.71" width="47.0" height="30.29" fill="#2b4a82"/>
<path d="M409.0 302.5 v3.2" stroke="#111" stroke-width="1.1"/>
<path d="M478.25 299.3725 V294.9725 M466.45 294.9725 h23.6" stroke="#1a1a1a" stroke-width="1.3" fill="none"/>
<rect x="455" y="299.37" width="46.5" height="2.63" fill="#5aaa3c"/>
<path d="M478.25 302.5 v3.2" stroke="#111" stroke-width="1.1"/>
<text transform="translate(338.8,316.6) scale(1,1.18)" font-size="8.1" text-anchor="middle" font-weight="normal" fill="#231f20" >TNF/LPS only</text>
<text transform="translate(409,316.6) scale(1,1.18)" font-size="8.1" text-anchor="middle" font-weight="normal" fill="#231f20" >+ shTM</text>
<text transform="translate(478.2,316.6) scale(1,1.18)" font-size="8.1" text-anchor="middle" font-weight="normal" fill="#231f20" >+ hTM/R6.5</text>
<text x="408.8" y="250.2" font-size="9" text-anchor="middle" font-weight="bold" fill="#231f20" >*</text>
<text x="478.3" y="287" font-size="9" text-anchor="middle" font-weight="bold" fill="#231f20" >**</text>
<text transform="translate(408.3,150.7) scale(1.11,1)" font-size="9.2" text-anchor="middle" font-weight="bold" fill="#231f20" style="fill:#000">AUC at 30 minutes</text>
<text transform="translate(282.6,244.8) rotate(-90) scale(0.70,1)" font-size="9" letter-spacing="0.2" text-anchor="start" fill="#231f20" stroke="#231f20" stroke-width="0.3">AUC x 10<tspan dy="-3.2" font-size="6">3</tspan></text>
<path d="M0 0 H520 V340 H0 Z M1.5 1.5 V337.9 H518.4 V1.5 Z" fill="#000" fill-rule="evenodd"/>
</svg>

</body></html>
